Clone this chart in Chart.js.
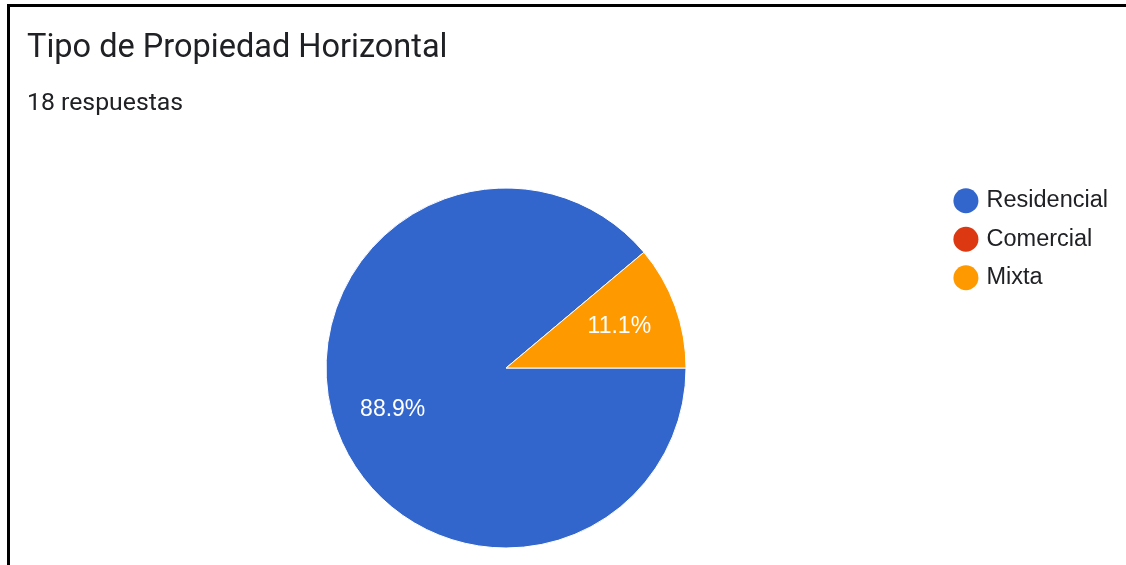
<!DOCTYPE html>
<html lang="es">
<head>
<meta charset="UTF-8">
<title>Tipo de Propiedad Horizontal</title>
<style>
    html, body {
        margin: 0;
        padding: 0;
        background: #ffffff;
        overflow: hidden;
    }
    .frame {
        position: absolute;
        left: 7px;
        top: 4px;
        width: 1200px;
        height: 600px;
        border-top: 3px solid #000;
        border-left: 3px solid #000;
    }
    .title {
        position: absolute;
        left: 27px;
        top: 30px;
        font-family: Roboto, Arial, sans-serif;
        font-size: 32.5px;
        line-height: 32.5px;
        color: #202124;
        white-space: nowrap;
        z-index: 2;
    }
    .subtitle {
        position: absolute;
        left: 27px;
        top: 90px;
        font-family: Roboto, Arial, sans-serif;
        font-size: 24.8px;
        line-height: 24.8px;
        color: #202124;
        white-space: nowrap;
        z-index: 2;
    }
    #chartBox {
        position: absolute;
        left: 0;
        top: 0;
        width: 1126px;
        height: 565px;
    }
</style>
<script src="https://cdn.jsdelivr.net/npm/chart.js"></script>
</head>
<body>

<div class="frame"></div>
<div class="title">Tipo de Propiedad Horizontal</div>
<div class="subtitle">18 respuestas</div>

<div id="chartBox">
    <canvas id="pieChart"></canvas>
</div>

<script>
// answers per category (18 in total)
var categories = ['Residencial', 'Comercial', 'Mixta'];
var counts = [16, 0, 2];
var sliceColors = ['#3366cc', '#dc3912', '#ff9900'];

// percent text drawn inside each slice, like the Forms summary chart
var sliceLabels = {
    id: 'sliceLabels',
    afterDatasetsDraw: function(chart) {
        var ctx = chart.ctx;
        var meta = chart.getDatasetMeta(0);
        var total = counts.reduce(function(a, b) { return a + b; }, 0);
        ctx.save();
        ctx.font = '23px "Liberation Sans", Arial, sans-serif';
        ctx.fillStyle = '#ffffff';
        ctx.textAlign = 'center';
        ctx.textBaseline = 'middle';
        meta.data.forEach(function(arc, i) {
            if (!counts[i]) return;
            var p = arc.getProps(['x', 'y', 'startAngle', 'endAngle', 'outerRadius']);
            var mid = (p.startAngle + p.endAngle) / 2;
            var r = p.outerRadius * 0.67;
            var pct = (counts[i] / total * 100).toFixed(1) + '%';
            ctx.fillText(pct, p.x + Math.cos(mid) * r, p.y + Math.sin(mid) * r);
        });
        ctx.restore();
    }
};

var ctx = document.getElementById('pieChart').getContext('2d');

new Chart(ctx, {
    type: 'pie',
    data: {
        labels: categories,
        datasets: [{
            data: counts,
            backgroundColor: sliceColors,
            borderColor: '#ffffff',
            borderWidth: 1,
            radius: 180
        }]
    },
    options: {
        responsive: true,
        maintainAspectRatio: false,
        animation: false,
        rotation: 90,
        layout: {
            padding: { left: 70, right: 8, top: 174, bottom: 3 }
        },
        plugins: {
            tooltip: { enabled: false },
            legend: {
                position: 'right',
                align: 'start',
                labels: {
                    usePointStyle: true,
                    pointStyle: 'circle',
                    boxWidth: 17.7,
                    boxHeight: 17.7,
                    padding: 15,
                    color: '#202124',
                    font: { family: '"Liberation Sans", Arial, sans-serif', size: 23.5 },
                    generateLabels: function(chart) {
                        var items = Chart.overrides.pie.plugins.legend.labels.generateLabels(chart);
                        items.forEach(function(item) {
                            item.lineWidth = 0;
                            item.hidden = false;
                        });
                        return items;
                    }
                }
            }
        }
    },
    plugins: [sliceLabels]
});
</script>
</body>
</html>
